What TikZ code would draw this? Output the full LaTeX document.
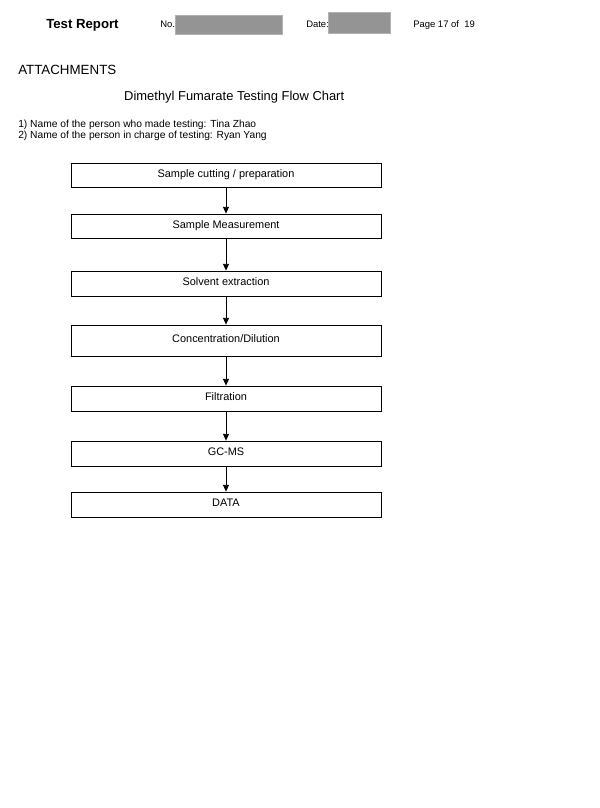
\documentclass[tikz,border=0pt]{standalone}
\usepackage{fontspec}
\setmainfont{Liberation Sans}
\usetikzlibrary{arrows.meta}
\tikzset{
  txt/.style={inner sep=0pt, anchor=base west},
  stepbox/.style={draw, line width=0.6pt, minimum width=232.5pt, inner sep=0pt,
    text height=6pt, text depth=2.6pt, font=\fontsize{8.2}{10}\selectfont},
  redact/.style={fill=black!42, draw=black!30, line width=0.4pt},
  flow/.style={-{Triangle[length=5pt,width=4.4pt]}, line width=0.6pt}
}
\begin{document}
\begin{tikzpicture}[x=0.75pt, y=-0.75pt]
   \useasboundingbox (0,0) rectangle (600,808);
   \node[txt, font=\bfseries\fontsize{9.9}{12}\selectfont] (report) at (46,28.3) {Test Report};
   \node[txt, font=\fontsize{7.1}{9}\selectfont] (no) at (160,27.3) {No.};
   \node[txt, font=\fontsize{7.1}{9}\selectfont] (date) at (306,27.3) {Date:};
   \node[txt, font=\fontsize{7.1}{9}\selectfont] (page) at (413,27.3) {Page 17 of\ \ 19};
   \draw[redact] (175.7,15) rectangle (282.7,34.3);
   \draw[redact] (328.3,12.3) rectangle (390,33.3);

   \node[txt, font=\fontsize{10}{12}\selectfont] (attach) at (18,74) {ATTACHMENTS};
   \node[inner sep=0pt, anchor=base, font=\fontsize{9.7}{12}\selectfont] (title) at (234.2,100.7)
     {Dimethyl Fumarate Testing Flow Chart};
   \node[txt, font=\fontsize{7.7}{9}\selectfont] (maker) at (18,127.7)
     {1) Name of the person who made testing: Tina Zhao};
   \node[txt, font=\fontsize{7.7}{9}\selectfont] (charge) at (18,138.3)
     {2) Name of the person in charge of testing: Ryan Yang};

   \foreach \n/\y/\h/\t in
     { cut/175/24/{Sample cutting / preparation},
       meas/226/24/{Sample Measurement},
       solv/283.5/25/{Solvent extraction},
       conc/340.5/31/{Concentration/Dilution},
       filt/398.5/25/{Filtration},
       gcms/453.5/25/{GC-MS},
       data/504.5/25/{DATA}
     }
     \node[stepbox, minimum height=\h*0.75pt] (\n) at (226,\y) {\t};

   \foreach \a/\b in {cut/meas, meas/solv, solv/conc, conc/filt, filt/gcms, gcms/data}
     \draw[flow] (\a) -- (\b);
\end{tikzpicture}
\end{document}
